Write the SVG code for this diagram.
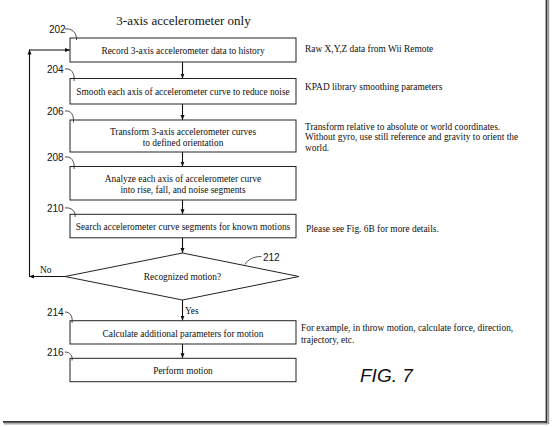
<svg xmlns="http://www.w3.org/2000/svg" width="554" height="427" viewBox="0 0 554 427">
<defs>
<marker id="ah" viewBox="0 0 10 10" refX="10" refY="5" markerWidth="5" markerHeight="5" orient="auto" markerUnits="userSpaceOnUse">
<path d="M0,1 L10,5 L0,9 Z" fill="#111"/>
</marker>
</defs>
<style>
.box{fill:#fff;stroke:#222;stroke-width:1}
.t{font-family:"Liberation Serif","Times New Roman",serif;font-size:9.4px;fill:#111}
.bt{text-anchor:middle}
.n{font-family:"Liberation Sans",Arial,sans-serif;font-size:10px;fill:#111}
.ld{fill:none;stroke:#222;stroke-width:0.8}
.c{fill:none;stroke:#111;stroke-width:1.1}
</style>
<rect width="554" height="427" fill="#fff"/>
<g id="frame">
<line x1="546.5" y1="0" x2="546.5" y2="423" stroke="#333" stroke-width="1.8"/>
<line x1="548.4" y1="0" x2="548.4" y2="424" stroke="#999" stroke-width="1.6"/>
<line x1="3" y1="421.8" x2="547" y2="421.8" stroke="#333" stroke-width="1.8"/>
<line x1="4" y1="423.7" x2="548" y2="423.7" stroke="#aaa" stroke-width="1.6"/>
</g>
<text id="title" x="183.5" y="25" class="t" style="font-size:13px" text-anchor="middle">3-axis accelerometer only</text>
<g id="connectors">
<line class="c" x1="182.5" y1="62" x2="182.5" y2="78.5" marker-end="url(#ah)"/>
<line class="c" x1="182.5" y1="104" x2="182.5" y2="120" marker-end="url(#ah)"/>
<line class="c" x1="182.5" y1="152" x2="182.5" y2="166.5" marker-end="url(#ah)"/>
<line class="c" x1="182.5" y1="200" x2="182.5" y2="214.3" marker-end="url(#ah)"/>
<line class="c" x1="182.5" y1="238" x2="182.5" y2="253" marker-end="url(#ah)"/>
<line class="c" x1="182.5" y1="300" x2="182.5" y2="320.7" marker-end="url(#ah)"/>
<line class="c" x1="182.5" y1="344" x2="182.5" y2="358.3" marker-end="url(#ah)"/>
<line class="c" x1="65" y1="276.5" x2="29" y2="276.5" marker-end="url(#ah)"/>
<line class="c" x1="29.5" y1="276.5" x2="29.5" y2="49.5" marker-end="url(#ah)"/>
<line class="c" x1="29" y1="50" x2="70" y2="50" marker-end="url(#ah)"/>
<text x="40" y="273" class="t">No</text>
<text x="185" y="314" class="t">Yes</text>
</g>
<g id="n202">
<rect class="box" x="70" y="38" width="226" height="24"/>
<text x="183" y="53.5" class="t bt">Record 3-axis accelerometer data to history</text>
<text x="49" y="33" class="n">202</text>
<path class="ld" d="M65,29 C72,28 77,33 76.5,40"/>
</g>
<g id="n204">
<rect class="box" x="70" y="78.5" width="226" height="25.5"/>
<text x="183" y="94.5" class="t bt">Smooth each axis of accelerometer curve to reduce noise</text>
<text x="47" y="73" class="n">204</text>
<path class="ld" d="M65,69 C71,68 75,73 74,81"/>
</g>
<g id="n206">
<rect class="box" x="70" y="120" width="226" height="32"/>
<text x="183" y="134.5" class="t bt">Transform 3-axis accelerometer curves</text>
<text x="183" y="145.5" class="t bt">to defined orientation</text>
<text x="47" y="115" class="n">206</text>
<path class="ld" d="M65,111 C71,110 74,115 73.5,122.5"/>
</g>
<g id="n208">
<rect class="box" x="70" y="166.5" width="226" height="33.5"/>
<text x="183" y="181.5" class="t bt">Analyze each axis of accelerometer curve</text>
<text x="183" y="193" class="t bt">into rise, fall, and noise segments</text>
<text x="47" y="161" class="n">208</text>
<path class="ld" d="M65,157 C71,156 75,161 74,169"/>
</g>
<g id="n210">
<rect class="box" x="70" y="214.3" width="226" height="23.5"/>
<text x="183" y="229.5" class="t bt">Search accelerometer curve segments for known motions</text>
<text x="47" y="212" class="n">210</text>
<path class="ld" d="M65,208 C71,207 76,211 75,217"/>
</g>
<g id="n212">
<polygon class="box" points="182.5,253 299,276.5 182.5,300 65,276.5"/>
<text x="182.5" y="280" class="t bt">Recognized motion?</text>
<text x="263" y="261" class="n">212</text>
<path class="ld" d="M245,264.5 C248,259 254,256.5 261.5,256.5"/>
</g>
<g id="n214">
<rect class="box" x="70" y="320.7" width="226" height="23.3"/>
<text x="183" y="336.5" class="t bt">Calculate additional parameters for motion</text>
<text x="47" y="315.5" class="n">214</text>
<path class="ld" d="M65,312 C70,312 73,316 72,323"/>
</g>
<g id="n216">
<rect class="box" x="70" y="358.3" width="226" height="23.4"/>
<text x="183" y="373.5" class="t bt">Perform motion</text>
<text x="47" y="355.5" class="n">216</text>
<path class="ld" d="M65,352 C70,352 73,356 72,360.5"/>
</g>
<g id="notes">
<text x="305" y="51.5" class="t">Raw X,Y,Z data from Wii Remote</text>
<text x="305" y="90" class="t">KPAD library smoothing parameters</text>
<text x="305" y="129.5" class="t">Transform relative to absolute or world coordinates.</text>
<text x="305" y="140" class="t">Without gyro, use still reference and gravity to orient the</text>
<text x="305" y="150.5" class="t">world.</text>
<text x="306" y="231.5" class="t">Please see Fig. 6B for more details.</text>
<text x="301" y="330.5" class="t">For example, in throw motion, calculate force, direction,</text>
<text x="301" y="343" class="t">trajectory, etc.</text>
</g>
<text id="fig" x="360" y="382" font-family="'Liberation Sans',Arial,sans-serif" font-size="19" font-style="italic" fill="#111">FIG. 7</text>
</svg>
